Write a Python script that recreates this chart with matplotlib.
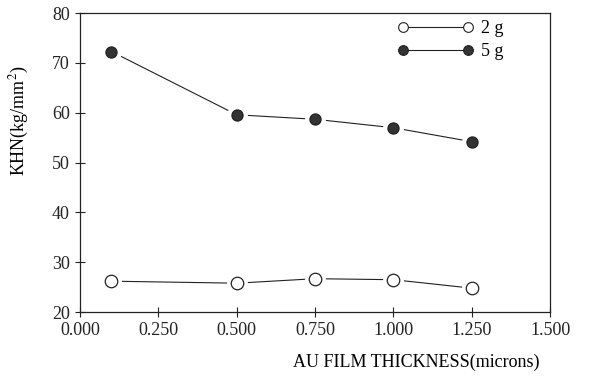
import numpy as np
from matplotlib import pyplot as plt
from matplotlib.ticker import FormatStrFormatter

thickness = [0.1, 0.5, 0.75, 1.0, 1.25]
khn_2g = [26.2, 25.8, 26.7, 26.5, 24.8]
khn_5g = [72.3, 59.6, 58.7, 57.0, 54.2]

x_ticks = [0.0, 0.25, 0.5, 0.75, 1.0, 1.25, 1.5]
y_ticks = [20, 30, 40, 50, 60, 70, 80]

plt.rcParams['font.family'] = ['Liberation Serif', 'DejaVu Serif']
plt.rcParams['font.size'] = 13
plt.rcParams['mathtext.fontset'] = 'stix'

fig = plt.figure(figsize=(5.89, 3.76), dpi=100)
ax = fig.add_axes([0.136, 0.170, 0.798, 0.795])

# белый ореол под маркерами, чтобы линия не доходила до точки
for y, face in [(khn_2g, 'white'), (khn_5g, '#333333')]:
    ax.plot(thickness, y, color='#222222', lw=0.8, zorder=2)
    ax.plot(thickness, y, ls='none', marker='o', ms=14, mfc='white',
            mec='white', zorder=3)
    ax.plot(thickness, y, ls='none', marker='o', ms=9 if face == 'white' else 8,
            mfc=face, mec='#222222', mew=0.9, zorder=4)

h2, = ax.plot([], [], color='#222222', lw=0.8, marker='o', ms=7,
              mfc='white', mec='#222222', mew=0.8)
h5, = ax.plot([], [], color='#222222', lw=0.8, marker='o', ms=7,
              mfc='#333333', mec='#222222', mew=0.8)
ax.legend([h2, h5], ['2 g', '5 g'], loc='upper right', numpoints=2,
          handlelength=4.2, frameon=False, fontsize=13,
          bbox_to_anchor=(0.935, 1.03), handletextpad=0.4, labelspacing=0.3)

ax.set_xlim(0, 1.5)
ax.set_ylim(20, 80)
ax.set_xticks(x_ticks)
ax.set_yticks(y_ticks)
ax.xaxis.set_major_formatter(FormatStrFormatter('%.3f'))
ax.tick_params(direction='inout', length=7, width=0.8, colors='#222222',
               labelsize=13, pad=4)
for s in ax.spines.values():
    s.set_linewidth(0.9)
    s.set_color('#222222')

ax.set_xlabel('AU FILM THICKNESS(microns)', fontsize=13)
ax.xaxis.set_label_coords(0.715, -0.14)
ax.set_ylabel(r'KHN(kg/mm$^2$)', fontsize=13)
ax.yaxis.set_label_coords(-0.105, 0.64)

plt.savefig('out.png', dpi=100)
